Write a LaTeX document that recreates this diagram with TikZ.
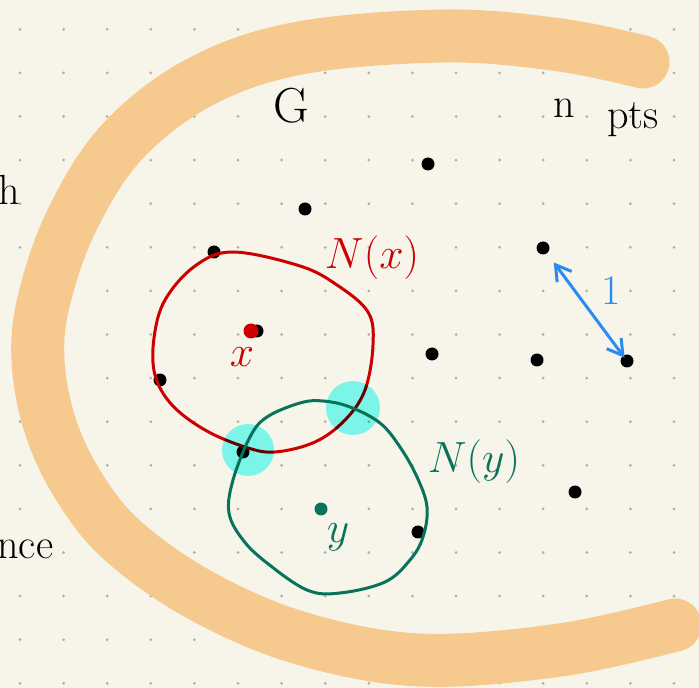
\documentclass[tikz,border=0pt]{standalone}
\usetikzlibrary{arrows.meta}
\definecolor{paper}{HTML}{F7F5EA}
\definecolor{griddot}{HTML}{B0AEA6}
\definecolor{bandorange}{HTML}{F6C98E}
\definecolor{nxred}{HTML}{CC0000}
\definecolor{nygreen}{HTML}{07735A}
\definecolor{glow}{HTML}{81FFFD}
\definecolor{distblue}{HTML}{2A8CF0}

\begin{document}
\begin{tikzpicture}[
  x=0.02cm,y=-0.02cm,
  hand/.style={font=\fontsize{24}{28}\selectfont,inner sep=0pt},
  pt/.style={circle,fill=black,inner sep=0pt,minimum size=0.26cm},
  band/.style={draw=bandorange,line width=1.06cm,line cap=round},
  nbhd/.style={line width=0.06cm,line join=round},
  glowspot/.style={fill=glow,blend mode=multiply},
  dist/.style={<->,>={Straight Barb[length=0.3cm,width=0.36cm]},draw=distblue,line width=0.06cm},
]
% ---- paper ----
\fill[paper] (0,0) rectangle (699,688);
\useasboundingbox (0,0) rectangle (699,688);
\foreach \i in {0,...,15} \foreach \j in {0,...,15}
  \fill[griddot] (20+43.6*\i,29.3+43.6*\j) circle[radius=0.03cm];

% ---- the big C ----
\draw[band] plot[smooth,tension=0.6] coordinates {
  (643,62) (560,45) (446,36) (300,48) (200,82) (122,142) (72,220) (44,300)
  (38,360) (50,425) (78,485) (122,540) (200,595) (300,638) (420,660)
  (560,650) (675,625)};

% ---- points ----
\node[pt] (p1) at (428,164) {};
\node[pt] (p2) at (305,209) {};
\node[pt] (p3) at (214,252) {};
\node[pt] (p4) at (543,248) {};
\node[pt] (p5) at (257,331) {};
\node[pt] (p6) at (432,354) {};
\node[pt] (p7) at (537,360) {};
\node[pt] (p8) at (627,361) {};
\node[pt] (p9) at (160,380) {};
\node[pt] (p10) at (243,452) {};
\node[pt] (p11) at (575,492) {};
\node[pt] (p12) at (418,532) {};

% ---- neighbourhoods ----
\draw[nbhd,nxred] plot[smooth cycle,tension=0.6] coordinates {
  (233,252) (300,266) (337,285) (368,312) (373,345) (365,390) (345,420)
  (315,442) (275,452) (245,447) (205,430) (172,405) (155,375) (154,338)
  (165,300) (195,266)};
\node[pt,fill=nxred,minimum size=0.3cm] (x) at (251,331) {};
\node[hand,text=nxred] (xlab) at (242,357) {$x$};
\node[hand,text=nxred] (nxlab) at (372,258) {$N(x)$};

\draw[nbhd,nygreen] plot[smooth cycle,tension=0.6] coordinates {
  (250,437) (267,417) (300,403) (323,401) (350,407) (380,423) (400,447)
  (417,477) (427,507) (423,537) (410,560) (385,582) (340,593) (307,590)
  (267,563) (243,540) (229,513) (233,480)};
\node[pt,fill=nygreen] (y) at (321,509) {};
\node[hand,text=nygreen] (ylab) at (338,537) {$y$};
\node[hand,text=nygreen] (nylab) at (474,462) {$N(y)$};

% ---- common neighbours ----
\fill[glowspot] (248,450) circle[radius=0.52cm];
\fill[glowspot] (353,408) circle[radius=0.54cm];

% ---- unit distance ----
\draw[dist,shorten <=0.36cm,shorten >=0.08cm] (p4.center) -- (p8.center);
\node[hand,text=distblue] (one) at (611,291) {1};

% ---- labels ----
\node[hand,font=\fontsize{28}{32}\selectfont] (G) at (291,106) {G};
\node[hand,anchor=base] (n) at (564,118) {n};
\node[hand,anchor=base] (pts) at (633,129) {pts};
\node[hand,anchor=base west] (h) at (-2,205) {h};
\node[hand,anchor=base west] (nce) at (-3,558) {nce};
\end{tikzpicture}
\end{document}
